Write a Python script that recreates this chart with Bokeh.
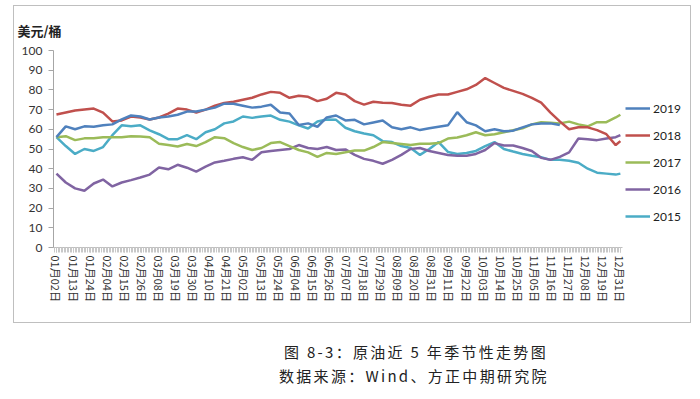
from bokeh.plotting import figure
from bokeh.models import FixedTicker, Legend, LegendItem, Div
from bokeh.layouts import column
from bokeh.embed import file_html
from bokeh.resources import INLINE

nan = float("nan")

days = [2, 8, 14, 20, 26, 32, 38, 44, 50, 56, 62, 68, 74, 80, 86, 92, 98, 104, 110, 116,
        122, 128, 134, 140, 146, 152, 158, 164, 170, 176, 182, 188, 194, 200, 206, 212, 218,
        224, 230, 236, 242, 248, 254, 260, 266, 272, 278, 284, 290, 296, 302, 308, 314, 320,
        326, 332, 338, 344, 350, 356, 362, 365]

tick_days = [2, 13, 24, 35, 46, 57, 68, 79, 90, 101, 112, 123, 134, 145, 156, 167, 178,
             189, 200, 211, 222, 233, 244, 255, 266, 277, 288, 299, 310, 321, 332, 343, 354, 365]
tick_labels = ["01月02日", "01月13日", "01月24日", "02月04日", "02月15日", "02月26日",
               "03月08日", "03月19日", "03月30日", "04月10日", "04月21日", "05月02日",
               "05月13日", "05月24日", "06月04日", "06月15日", "06月26日", "07月07日",
               "07月18日", "07月29日", "08月09日", "08月20日", "08月31日", "09月11日",
               "09月22日", "10月03日", "10月14日", "10月25日", "11月05日", "11月16日",
               "11月27日", "12月08日", "12月19日", "12月31日"]

y2018 = [67.5, 68.5, 69.5, 70, 70.5, 68.5, 64, 64.5, 66.5, 66, 65, 66, 68, 70.5, 70, 68.5,
         70, 72, 73.4, 74, 75, 76, 77.7, 79, 78.5, 76, 77, 76.5, 74.3, 75.5, 78.5, 77.7,
         74.3, 72.5, 74, 73.5, 73.4, 72.5, 72, 75, 76.5, 77.7, 77.7, 79, 80.3, 82.5, 86,
         83.5, 81, 79.5, 78, 76, 73.5, 68.5, 64, 60, 61, 61, 59.6, 57.5, 52, 54]

y2019 = [56, 61.5, 60, 61.5, 61.3, 62, 62.5, 65, 67, 66.5, 65, 66, 66.5, 67.4, 69, 69,
         70, 71, 73, 73, 72, 71, 71.5, 72.5, 68.5, 68, 62.2, 63, 61.3, 66, 67, 64.5, 64.8,
         62.5, 63.5, 64.5, 61, 60, 61, 59.6, 60.5, 61.3, 62, 68.7, 63.6, 62, 59, 60, 59,
         59.3, 61, 62.5, 63, 63, 62.2, nan, nan, nan, nan, nan, nan, nan]

y2017 = [56, 56.5, 54.5, 55.4, 55.5, 56, 56, 56, 56.5, 56.3, 56, 52.7, 52, 51.3, 52.5,
         51.5, 53.5, 56, 55.5, 53, 51, 49.5, 50.5, 53, 53.5, 51.5, 49.5, 48.3, 46, 48, 47.5,
         48.3, 49.2, 49.2, 51, 53.5, 53, 52.5, 52, 52.7, 52.7, 53, 55.3, 55.8, 57, 58.5, 57,
         57.5, 58.5, 59.5, 60.5, 62.5, 63.6, 63.3, 63, 63.9, 62.5, 61.5, 63.6, 63.6, 66, 67.4]

y2016 = [37.5, 33, 30, 28.8, 32.5, 34.5, 31, 33, 34.2, 35.5, 37, 40.6, 39.7, 42, 40.5,
         38.5, 41, 43.2, 44, 45, 45.8, 44.5, 48.3, 49, 49.5, 50, 52, 50.5, 50, 51, 49.5,
         49.8, 47, 45, 44, 42.5, 44.5, 47, 50, 50.5, 49, 48, 47, 46.6, 46.6, 47.5, 49.5,
         53, 51.8, 51.8, 50.5, 49, 45.5, 44.5, 46, 48.3, 55.3, 55, 54.5, 55.3, 56, 57]

y2015 = [56, 51.5, 47.5, 50, 49, 51, 57, 62, 61.5, 62, 59.5, 57.5, 55, 55, 57, 55, 58.5,
         60, 63, 64, 66.5, 65.8, 66.5, 67, 64.8, 63.9, 62, 60.4, 64, 65, 64.8, 60.8, 59,
         57.9, 57, 54, 53.5, 51.5, 50.5, 47, 50, 53.5, 48.5, 47.5, 48, 49, 51.5, 53.5, 50,
         48.7, 47.5, 46.6, 45.8, 44.5, 44.5, 44, 43, 40, 38, 37.5, 37, 37.5]

series = [("2019", y2019, "#4F81BD"), ("2018", y2018, "#C0504D"), ("2017", y2017, "#9BBB59"),
          ("2016", y2016, "#8064A2"), ("2015", y2015, "#4BACC6")]

FONT = "Noto Sans CJK SC"

# frame extends to the right to hold the legend; the x axis is bounded to the data days
p = figure(width=678, height=318, x_range=(0.1, 409.5), y_range=(0, 100),
           output_backend="svg", toolbar_location=None,
           min_border_left=39, min_border_right=3, min_border_top=44, min_border_bottom=77)
p.margin = (5, 0, 0, 13)
p.styles = {"border": "1px solid #BFBFBF"}
p.outline_line_color = None
p.xgrid.visible = False
p.ygrid.visible = False

p.title.text = "美元/桶"
p.title.align = "left"
p.title.offset = -36
p.title.standoff = 21
p.title.text_font = FONT
p.title.text_font_size = "13px"
p.title.text_font_style = "bold"
p.title.text_color = "#222222"

renderers = {}
for name, vals, col in reversed(series):
    renderers[name] = p.line(days, vals, line_color=col, line_width=2.5)

p.xaxis.bounds = (0.1, 366.3)
p.xaxis.ticker = FixedTicker(ticks=tick_days, minor_ticks=list(range(1, 366)))
p.xaxis.major_label_overrides = {d: lab for d, lab in zip(tick_days, tick_labels)}
p.xaxis.major_label_orientation = "vertical"
p.xaxis.major_label_text_font = FONT
p.xaxis.major_label_text_font_size = "11px"
p.xaxis.major_label_text_color = "#333333"
p.xaxis.major_label_standoff = 3
p.xaxis.axis_line_color = "#BFBFBF"
p.xaxis.major_tick_line_color = "#BFBFBF"
p.xaxis.minor_tick_line_color = "#C8C8C8"
p.xaxis.major_tick_in = 0
p.xaxis.major_tick_out = 5
p.xaxis.minor_tick_in = 0
p.xaxis.minor_tick_out = 5

p.yaxis.ticker = FixedTicker(ticks=list(range(0, 101, 10)))
p.yaxis.minor_tick_line_color = None
p.yaxis.axis_line_color = "#A6A6A6"
p.yaxis.major_tick_line_color = "#A6A6A6"
p.yaxis.major_tick_in = 0
p.yaxis.major_tick_out = 5
p.yaxis.major_label_standoff = 6
p.yaxis.major_label_text_font = "Lato"
p.yaxis.major_label_text_font_size = "12px"
p.yaxis.major_label_text_color = "#333333"

legend = Legend(items=[LegendItem(label=n, renderers=[renderers[n]]) for n, _, _ in series],
                location=(572, 21), orientation="vertical", glyph_width=25, glyph_height=20,
                label_height=20, spacing=7, padding=0, margin=0, border_line_color=None,
                background_fill_alpha=0, label_text_font="Lato", label_text_font_size="12px",
                label_standoff=3, label_text_color="#222222")
p.add_layout(legend)

cap = Div(text=(
    '<div style="margin-left:279px;">图 8-3：原油近 5 年季节性走势图</div>'
    '<div style="margin-left:274px;">数据来源：Wind、方正中期研究院</div>'),
    width=680, height=66,
    styles={"font-family": "'Noto Sans CJK SC'", "font-size": "15px", "letter-spacing": "2.3px",
            "line-height": "24px", "padding-top": "12px", "color": "#222222"})

layout = column(p, cap, spacing=0)
open("out.html", "w").write(file_html(layout, INLINE))
